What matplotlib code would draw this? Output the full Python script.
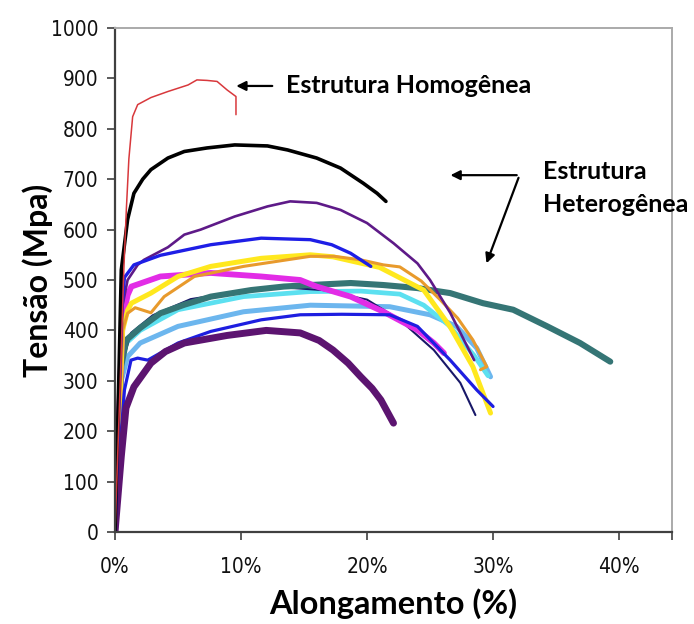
import matplotlib
matplotlib.use('Agg')
import matplotlib.pyplot as plt
from matplotlib import font_manager

# fonts: a narrow face for the tick numbers if there is one
fonts = font_manager.fontManager.ttflist
names = {f.name for f in fonts}
TICK_STRETCH = 'normal'
if 'Liberation Sans Narrow' in names:
    TICK_FONT = 'Liberation Sans Narrow'
elif any(f.name == 'DejaVu Sans' and f.stretch == 'condensed' for f in fonts):
    TICK_FONT = 'DejaVu Sans'
    TICK_STRETCH = 'condensed'
else:
    TICK_FONT = 'Liberation Sans'
LABEL_FONT = 'Lato' if 'Lato' in names else 'DejaVu Sans'

# Dados (alongamento %, tensao MPa)
red_x = [0, 0.35, 0.7, 0.9, 1.1, 1.4, 1.8, 2.85, 4.2, 5.8, 6.5, 7.3, 8.1, 8.9, 9.6, 9.6]
red_y = [0, 250, 520, 640, 740, 824, 848, 862, 874, 887, 897, 896, 894, 877, 864, 828]

black_x = [0, 0.3, 0.5, 1.0, 1.5, 2.2, 2.85, 4.2, 5.5, 7.3, 9.5, 12.1, 13.7, 16.0, 17.9, 19.7, 20.8, 21.5]
black_y = [0, 300, 520, 620, 672, 700, 719, 742, 755, 762, 768, 766, 758, 742, 722, 692, 672, 656]

purple_x = [0, 0.6, 1.0, 1.8, 2.3, 4.2, 5.5, 6.8, 9.5, 12.1, 13.9, 16.0, 17.9, 20.0, 22.1, 24.0, 25.0, 26.6, 28.5]
purple_y = [0, 450, 500, 530, 540, 565, 590, 600, 626, 646, 656, 653, 639, 613, 573, 533, 500, 435, 341]

blue_x = [0, 0.5, 0.75, 1.5, 3.6, 7.6, 11.6, 15.5, 17.2, 18.7, 20.3]
blue_y = [0, 430, 505, 530, 549, 570, 583, 580, 570, 553, 527]

magenta_x = [0, 0.6, 1.0, 1.3, 3.6, 7.6, 11.6, 14.7, 16.0, 18.7, 21.3, 24.0, 25.3, 26.1]
magenta_y = [0, 420, 470, 487, 507, 514, 507, 500, 487, 467, 437, 401, 375, 355]

yellow_x = [0, 0.6, 1.0, 1.3, 2.85, 5.0, 7.6, 11.6, 15.5, 17.3, 21.0, 24.5, 26.6, 28.4, 29.8]
yellow_y = [0, 400, 440, 454, 474, 507, 527, 543, 550, 546, 525, 480, 407, 328, 236]

orange_x = [0, 0.6, 1.0, 1.6, 2.85, 3.9, 6.3, 10.2, 15.5, 17.4, 19.5, 21.3, 22.6, 24.3, 25.8, 27.2, 28.4, 29.5, 29.0]
orange_y = [0, 400, 434, 445, 435, 467, 507, 527, 547, 547, 540, 530, 526, 498, 461, 424, 381, 328, 322]

teal_x = [0, 0.5, 0.9, 2.0, 3.6, 5.5, 7.6, 10.8, 13.4, 15.5, 18.7, 21.3, 24.0, 26.6, 29.2, 31.6, 34.3, 36.9, 39.3]
teal_y = [0, 330, 381, 405, 434, 451, 467, 480, 487, 490, 494, 490, 484, 474, 454, 441, 408, 375, 338]

cyan_x = [0, 0.5, 0.9, 2.0, 5.0, 10.2, 15.5, 19.5, 22.6, 24.5, 26.5, 28.5, 29.6]
cyan_y = [0, 330, 375, 400, 441, 467, 477, 478, 472, 450, 410, 350, 310]

sky_x = [0, 0.5, 1.0, 2.0, 5.0, 10.2, 15.5, 21.8, 25.0, 27.1, 28.7, 29.8]
sky_y = [0, 300, 348, 375, 408, 437, 450, 447, 431, 408, 365, 308]

navy_x = [0, 0.5, 1.27, 3.0, 6.0, 10.0, 13.5, 16.5, 20.0, 22.6, 25.3, 27.4, 28.6]
navy_y = [0, 330, 395, 430, 462, 478, 485, 480, 461, 421, 361, 296, 232]

blue2_x = [0, 0.5, 0.75, 1.27, 1.8, 2.6, 5.0, 7.6, 11.6, 14.7, 18.0, 21.8, 24.0, 26.6, 28.7, 30.0]
blue2_y = [0, 200, 282, 341, 345, 341, 375, 398, 421, 431, 432, 431, 408, 341, 282, 249]

dpurple_x = [0, 0.5, 0.87, 1.5, 2.85, 4.0, 5.5, 8.9, 12.0, 14.7, 16.2, 17.3, 18.5, 19.5, 20.4, 21.1, 22.1]
dpurple_y = [0, 150, 246, 288, 335, 358, 375, 390, 400, 395, 380, 361, 335, 308, 285, 262, 216]

x_ticks = [0, 10, 20, 30, 40]
x_tick_labels = ['0%', '10%', '20%', '30%', '40%']
y_ticks = [0, 100, 200, 300, 400, 500, 600, 700, 800, 900, 1000]

fig = plt.figure(figsize=(6.94, 6.24), dpi=100)
ax = fig.add_axes([115/694, 92/624, 557/694, 504/624])

# ordem de desenho (fundo -> frente)
curves = [
    (sky_x, sky_y, '#6CB6EE', 3.6),
    (cyan_x, cyan_y, '#5CE0F0', 3.4),
    (navy_x, navy_y, '#181868', 1.5),
    (teal_x, teal_y, '#357575', 4.4),
    (magenta_x, magenta_y, '#E22CE6', 4.2),
    (yellow_x, yellow_y, '#FFE81E', 3.6),
    (orange_x, orange_y, '#E89A2C', 2.2),
    (blue2_x, blue2_y, '#1E1EE0', 2.3),
    (dpurple_x, dpurple_y, '#5C1470', 5.0),
    (purple_x, purple_y, '#5E1A88', 1.9),
    (blue_x, blue_y, '#1E1EE6', 2.4),
    (black_x, black_y, '#000000', 2.6),
    (red_x, red_y, '#D8383C', 1.1),
]
for xs, ys, c, lw in curves:
    ax.plot(xs, ys, color=c, lw=lw, solid_joinstyle='round', solid_capstyle='round')

ax.set_xlim(0, 44.2)
ax.set_ylim(0, 1000)
ax.set_xticks(x_ticks)
ax.set_xticklabels(x_tick_labels)
ax.set_yticks(y_ticks)
ax.set_xticks([44.2], minor=True)
ax.tick_params(axis='both', which='major', direction='out', length=6, width=1.2,
               color='#404040', labelsize=15)
ax.tick_params(axis='x', which='major', pad=12)
ax.tick_params(axis='y', which='major', pad=6)
ax.tick_params(axis='x', which='minor', direction='out', length=6, width=1.2, color='#404040')
for lab in ax.get_xticklabels() + ax.get_yticklabels():
    lab.set_fontfamily(TICK_FONT)
    lab.set_fontstretch(TICK_STRETCH)
    lab.set_color('#111111')

for s in ['left', 'bottom']:
    ax.spines[s].set_color('#404040')
    ax.spines[s].set_linewidth(1.6)
for s in ['top', 'right']:
    ax.spines[s].set_color('#AAAAAA')
    ax.spines[s].set_linewidth(1.4)

ax.set_xlabel('Alongamento (%)', fontsize=23.5, fontweight='bold', family=LABEL_FONT,
              labelpad=8)
ax.set_ylabel('Tensão (Mpa)', fontsize=23, fontweight='bold', family=LABEL_FONT)
# the right (lower) edge of the rotated y label sits about 53 px from the figure edge
ax.yaxis.set_label_coords(-(115 - 53) / 557, 0.5)

# anotacoes
arrow = dict(arrowstyle='-|>', color='black', lw=1.6, mutation_scale=14)
ax.annotate('', xy=(9.4, 885), xytext=(12.7, 885), arrowprops=arrow)
ax.text(13.6, 885, 'Estrutura Homogênea', fontsize=18, fontweight='bold',
        family=LABEL_FONT, ha='left', va='center')

ax.annotate('', xy=(26.4, 708), xytext=(32.1, 708), arrowprops=arrow)
ax.annotate('', xy=(29.4, 528), xytext=(32.1, 708), arrowprops=arrow)
ax.text(34.0, 715, 'Estrutura', fontsize=18, fontweight='bold',
        family=LABEL_FONT, ha='left', va='center')
ax.text(34.0, 650, 'Heterogênea', fontsize=18, fontweight='bold',
        family=LABEL_FONT, ha='left', va='center', clip_on=False)

fig.savefig('out.png', dpi=100)
